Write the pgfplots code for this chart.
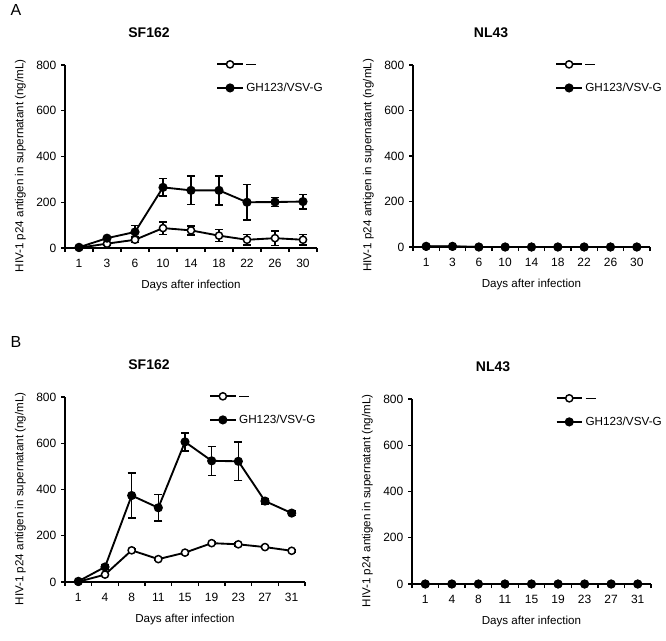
\documentclass[border=0pt]{standalone}
\usepackage{fontspec}
\setmainfont{Liberation Sans}
\usepackage{pgfplots}
\usepackage{pgfplotstable}
\pgfplotsset{compat=1.18}

% day index, mean, error
\pgfplotstableread{
x y e
0 3 1
1 43 6
2 70 28
3 265 38
4 252 62
5 252 63
6 200 78
7 201 19
8 203 32
}\AfilSF
\pgfplotstableread{
x y e
0 1 1
1 19 6
2 36 12
3 87 27
4 77 20
5 54 26
6 36 22
7 43 32
8 36 22
}\AopnSF
\pgfplotstableread{
x y e
0 3 1
1 3 1
2 0 0
3 0 0
4 0 0
5 0 0
6 0 0
7 0 0
8 0 0
}\AfilNL
\pgfplotstableread{
x y e
0 2 1
1 2 1
2 0 0
3 0 0
4 0 0
5 0 0
6 0 0
7 0 0
8 0 0
}\AopnNL
\pgfplotstableread{
x y e
0 3 1
1 65 8
2 374 97
3 321 57
4 606 39
5 524 63
6 522 84
7 350 12
8 298 10
}\BfilSF
\pgfplotstableread{
x y e
0 1 1
1 32 4
2 137 6
3 99 5
4 127 5
5 168 6
6 163 8
7 151 5
8 135 5
}\BopnSF
\pgfplotstableread{
x y e
0 0 0
1 0 0
2 0 0
3 0 0
4 0 0
5 0 0
6 0 0
7 0 0
8 0 0
}\BfilNL
\pgfplotstableread{
x y e
0 0 0
1 0 0
2 0 0
3 0 0
4 0 0
5 0 0
6 0 0
7 0 0
8 0 0
}\BopnNL

\pgfplotsset{
  hiv/.style={
    scale only axis,
    axis lines=left,
    axis line style={-, line width=1.1pt},
    xmin=-0.5, xmax=8.5, ymin=0, ymax=800,
    ytick={0,200,...,800},
    xtick={0,...,8},
    major x tick style={draw=none},
    minor xtick={-0.5,0.5,...,8.5},
    minor x tick style={line width=1pt, black},
    y tick style={line width=1pt, black},
    major tick length=3pt, minor tick length=3pt,
    tick align=outside,
    clip=false,
    /pgf/number format/assume math mode=true,
    ticklabel style={font=\fontsize{9}{10}\selectfont},
    xticklabel style={yshift=-2pt},
    xlabel={Days after infection},
    ylabel={HIV-1 p24 antigen in supernatant (ng/mL)},
    xlabel style={font=\fontsize{8.7}{10}\selectfont, at={(axis description cs:0.5,0)}, anchor=center, yshift=-28pt},
    ylabel style={font=\fontsize{8.7}{10}\selectfont, at={(axis description cs:0,0.5)}, anchor=center, yshift=33.5pt, xshift=-7pt},
    legend style={draw=none, fill=none, inner sep=0pt, row sep=9pt,
      at={(axis description cs:0.6,1.025)}, anchor=north west,
      font=\fontsize{8.8}{10}\selectfont},
    legend cell align=left,
    legend image code/.code={\draw[mark repeat=2, mark phase=2, #1] plot coordinates {(0pt,0pt) (9.5pt,0pt) (19pt,0pt)};},
  },
  opn/.style={black, line width=1.4pt, mark=*, mark size=2.7pt,
    mark options={fill=white, draw=black, line width=1.1pt},
    error bars/.cd, y dir=both, y explicit,
    error bar style={line width=1.1pt, black},
    error mark options={rotate=90, mark size=3pt, line width=1.1pt, black}},
  fil/.style={black, line width=1.4pt, mark=*, mark size=2.7pt,
    mark options={fill=black, draw=black},
    error bars/.cd, y dir=both, y explicit,
    error bar style={line width=1.1pt, black},
    error mark options={rotate=90, mark size=3pt, line width=1.1pt, black}},
}
% the "—" of the open-circle series, set on the legend line's level
\newcommand\dash{\rule[-1.2pt]{7.5pt}{0.8pt}}

\begin{document}
\begin{tikzpicture}
\path[use as bounding box] (0pt,0pt) rectangle (499.5pt,480pt);

\node[font=\fontsize{12}{14}\selectfont] at (12pt,472.5pt) {A};
\node[font=\fontsize{12}{14}\selectfont] at (12pt,223.5pt) {B};
\node[font=\bfseries\fontsize{10.5}{12}\selectfont] at (111.75pt,455.25pt) {SF162};
\node[font=\bfseries\fontsize{10.5}{12}\selectfont] at (368.25pt,455.25pt) {NL43};
\node[font=\bfseries\fontsize{10.5}{12}\selectfont] at (111.75pt,206.25pt) {SF162};
\node[font=\bfseries\fontsize{10.5}{12}\selectfont] at (369.75pt,204.75pt) {NL43};

% A, SF162
\begin{axis}[hiv, at={(48.75pt,294pt)}, anchor=south west, width=189pt, height=137.25pt,
  xticklabels={1,3,6,10,14,18,22,26,30}]
  \addplot+[opn] table[x=x, y=y, y error=e] {\AopnSF};
  \addlegendentry{\dash}
  \addplot+[fil] table[x=x, y=y, y error=e] {\AfilSF};
  \addlegendentry{GH123/VSV-G}
\end{axis}

% A, NL43
\begin{axis}[hiv, at={(309.75pt,294.75pt)}, anchor=south west, width=177.75pt, height=136.5pt,
  xticklabels={1,3,6,10,14,18,22,26,30}]
  \addplot+[opn] table[x=x, y=y, y error=e] {\AopnNL};
  \addlegendentry{\dash}
  \addplot+[fil] table[x=x, y=y, y error=e] {\AfilNL};
  \addlegendentry{GH123/VSV-G}
\end{axis}

% B, SF162
\begin{axis}[hiv, at={(48.75pt,43.5pt)}, anchor=south west, width=180pt, height=138.75pt,
  xticklabels={1,4,8,11,15,19,23,27,31}]
  \addplot+[opn] table[x=x, y=y, y error=e] {\BopnSF};
  \addlegendentry{\dash}
  \addplot+[fil] table[x=x, y=y, y error=e] {\BfilSF};
  \addlegendentry{GH123/VSV-G}
\end{axis}

% B, NL43
\begin{axis}[hiv, at={(309pt,42pt)}, anchor=south west, width=179.25pt, height=138.75pt,
  xticklabels={1,4,8,11,15,19,23,27,31}]
  \addplot+[opn] table[x=x, y=y, y error=e] {\BopnNL};
  \addlegendentry{\dash}
  \addplot+[fil] table[x=x, y=y, y error=e] {\BfilNL};
  \addlegendentry{GH123/VSV-G}
\end{axis}
\end{tikzpicture}
\end{document}
